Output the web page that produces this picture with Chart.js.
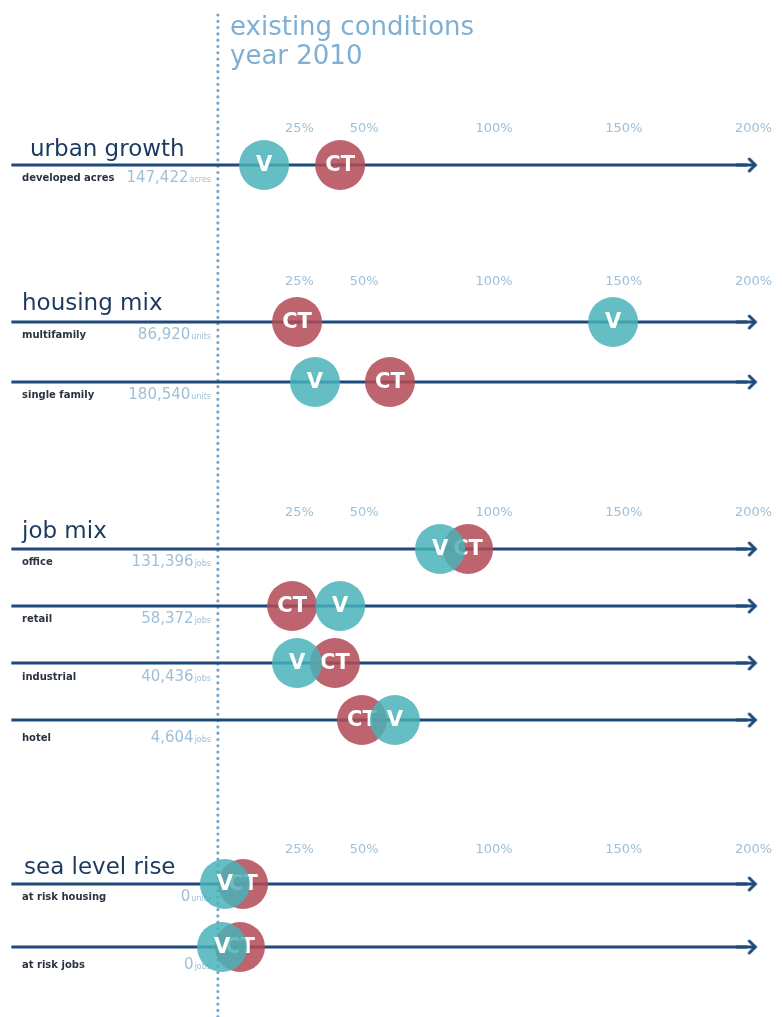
<!DOCTYPE html>
<html>
<head>
<meta charset="utf-8">
<script src="https://cdn.jsdelivr.net/npm/chart.js@4/dist/chart.umd.min.js"></script>
<style>
  html, body { margin: 0; padding: 0; background: #ffffff; overflow: hidden; }
  canvas { display: block; }
</style>
</head>
<body>
<canvas id="chart" width="782" height="1017"></canvas>
<script>
// ---- data ----
const groups = ['urban growth', 'housing mix', 'job mix', 'sea level rise'];
const rowLabels = ['developed acres', 'multifamily', 'single family', 'office', 'retail',
                   'industrial', 'hotel', 'at risk housing', 'at risk jobs'];
const rowGroup = [0, 1, 1, 2, 2, 2, 2, 3, 3];
const existingValues = ['147,422', '86,920', '180,540', '131,396', '58,372', '40,436', '4,604', '0', '0'];
const existingUnits = ['acres', 'units', 'units', 'jobs', 'jobs', 'jobs', 'jobs', 'units', 'jobs'];
// percent of existing conditions, per row
const ctValues = [40.7, 24.1, 59.9, 90.0, 22.2, 38.7, 49.1, 3.3, 2.1];
const vValues  = [11.4, 145.9, 31.0, 79.2, 40.7, 24.1, 61.8, -3.7, -4.8];
const tickValues = [25, 50, 100, 150, 200];
const tickLabels = ['25%', '50%', '100%', '150%', '200%'];
const headerLines = ['existing conditions', 'year 2010'];

// ---- layout ----
const X_MIN = -90.37, X_MAX = 210.98;   // horizontal range of the canvas
const baselineX = -6.4;                  // dotted "existing conditions" line
const lineStart = -86, lineEnd = 197.6;  // row axis arrows
const rowY = [165, 322, 382, 549, 606, 663, 720, 884, 947];
const labelY = [178, 335, 395, 562, 619, 677, 738, 897, 965];
const groupTickY = [129, 282, 513, 850];
const groupTitle = [{x: 30, y: 150}, {x: 22, y: 304}, {x: 22, y: 532}, {x: 24, y: 868}];

const NAVY = '#1d4a7a';
const PALE = '#9fbfd6';
const FONT = '"DejaVu Sans", Lato, sans-serif';

// arrow head used as the end point style of each row line
const arrowHead = document.createElement('canvas');
arrowHead.width = 22; arrowHead.height = 18;
(function () {
  const c = arrowHead.getContext('2d');
  c.strokeStyle = NAVY; c.lineWidth = 3; c.lineCap = 'round'; c.lineJoin = 'round';
  c.beginPath(); c.moveTo(0, 9); c.lineTo(19, 9); c.stroke();
  c.beginPath(); c.moveTo(13, 3); c.lineTo(19, 9); c.lineTo(13, 15); c.stroke();
})();

const rowLineSets = rowY.map(yv => ({
  type: 'line',
  data: [{x: lineStart, y: yv}, {x: lineEnd, y: yv}],
  borderColor: NAVY,
  borderWidth: 3,
  pointRadius: ctx => ctx.dataIndex === 1 ? 5 : 0,
  pointStyle: ctx => ctx.dataIndex === 1 ? arrowHead : 'circle',
  order: 3
}));

const datasets = [
  {
    type: 'line',
    data: [{x: baselineX, y: 15}, {x: baselineX, y: 1017}],
    borderColor: '#77a6cb',
    borderWidth: 3.2,
    borderDash: [0, 6.3],
    borderCapStyle: 'round',
    pointRadius: 0,
    order: 4
  },
  ...rowLineSets,
  {
    type: 'scatter',
    label: 'CT',
    markerText: 'CT',
    data: ctValues.map((v, i) => ({x: v, y: rowY[i]})),
    backgroundColor: 'rgba(178, 74, 86, 0.86)',
    borderWidth: 0,
    pointRadius: 25,
    pointHoverRadius: 25,
    order: 2
  },
  {
    type: 'scatter',
    label: 'V',
    markerText: 'V',
    data: vValues.map((v, i) => ({x: v, y: rowY[i]})),
    backgroundColor: 'rgba(72, 178, 184, 0.84)',
    borderWidth: 0,
    pointRadius: 25,
    pointHoverRadius: 25,
    order: 1
  }
];

const textPlugin = {
  id: 'chartText',
  beforeDatasetsDraw(chart) {
    const {ctx, scales: {x, y}} = chart;
    ctx.save();
    ctx.textBaseline = 'middle';

    // header
    ctx.fillStyle = '#7fb0d4';
    ctx.font = '26px ' + FONT;
    ctx.textAlign = 'left';
    ctx.fillText(headerLines[0], 230, 28);
    ctx.fillText(headerLines[1], 230, 57);

    // group titles and tick labels
    groups.forEach((g, gi) => {
      ctx.fillStyle = '#1b3a5e';
      ctx.font = '23px ' + FONT;
      ctx.textAlign = 'left';
      ctx.fillText(g, groupTitle[gi].x, groupTitle[gi].y);

      ctx.fillStyle = PALE;
      ctx.font = '13px ' + FONT;
      ctx.textAlign = 'center';
      tickValues.forEach((t, ti) => {
        ctx.fillText(tickLabels[ti], x.getPixelForValue(t), y.getPixelForValue(groupTickY[gi]));
      });
    });

    // row labels and existing values
    rowLabels.forEach((lab, i) => {
      const py = y.getPixelForValue(labelY[i]);
      ctx.fillStyle = '#2b3340';
      ctx.font = 'bold 10px ' + FONT;
      ctx.textAlign = 'left';
      ctx.fillText(lab, 22, py);

      const right = 211;
      ctx.font = '8px ' + FONT;
      const uw = ctx.measureText(existingUnits[i]).width;
      ctx.fillStyle = PALE;
      ctx.textAlign = 'left';
      ctx.fillText(existingUnits[i], right - uw, py + 2);
      ctx.font = '15px ' + FONT;
      ctx.textAlign = 'right';
      ctx.fillText(existingValues[i], right - uw - 1, py);
    });
    ctx.restore();
  },
  afterDatasetDraw(chart, args) {
    const ds = chart.data.datasets[args.index];
    if (!ds.markerText) return;
    const ctx = chart.ctx;
    ctx.save();
    ctx.fillStyle = '#ffffff';
    ctx.font = 'bold 21px ' + FONT;
    ctx.textAlign = 'center';
    ctx.textBaseline = 'middle';
    args.meta.data.forEach(pt => ctx.fillText(ds.markerText, pt.x, pt.y + 1));
    ctx.restore();
  }
};

new Chart(document.getElementById('chart'), {
  type: 'scatter',
  data: {datasets},
  options: {
    responsive: false,
    animation: false,
    events: [],
    layout: {padding: 0, autoPadding: false},
    plugins: {legend: {display: false}, tooltip: {enabled: false}},
    scales: {
      x: {type: 'linear', min: X_MIN, max: X_MAX, display: false},
      y: {type: 'linear', min: 0, max: 1017, reverse: true, display: false}
    }
  },
  plugins: [textPlugin]
});
</script>
</body>
</html>
